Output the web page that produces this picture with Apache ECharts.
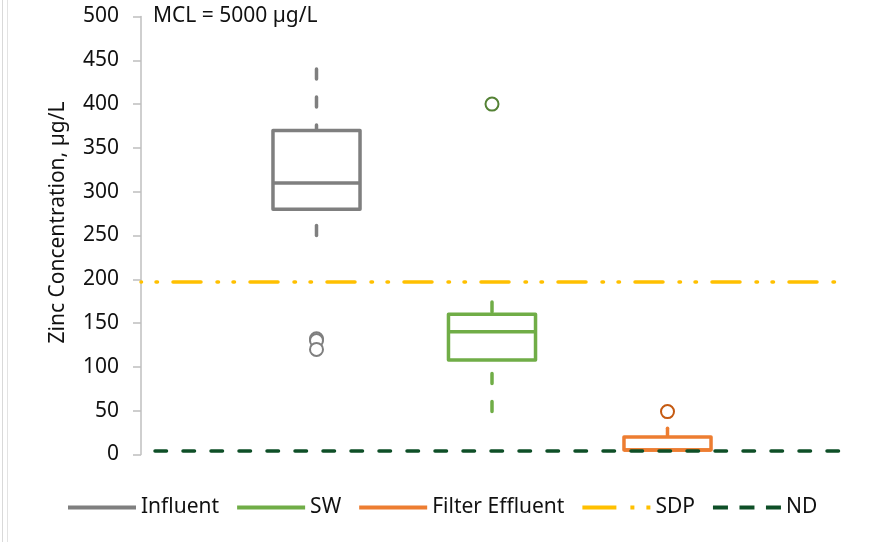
<!DOCTYPE html>
<html><head><meta charset="utf-8">
<script src="https://cdn.jsdelivr.net/npm/echarts@6/dist/echarts.min.js"></script>
<style>html,body{margin:0;padding:0;background:#fff}#c{width:869px;height:542px}</style>
</head><body><div id="c"></div>
<script>
// ---- data ----
const categories = ['', 'Influent', 'SW', 'Filter Effluent', ''];
const yMin = 0, yMax = 500, yStep = 50;
// box stats: [low whisker, Q1, median, Q3, high whisker]
const influentBox = [250, 280, 310, 370, 440];
const swBox = [49, 108, 140, 160, 174];
const effluentBox = [5, 5, 5, 20, 30];
const influentOutliers = [132, 130, 120];
const swOutliers = [400];
const effluentOutliers = [49];
const sdpLevel = 197;
const ndLevel = 4;
const titleText = 'MCL = 5000 µg/L';
const yName = 'Zinc Concentration, µg/L';

// ---- styles ----
const FONT = 'Noto Sans';
const TXT = '#111';
const C_INF = '#7F7F7F', C_SW = '#70AD47', C_EFF = '#ED7D31';
const C_INF_O = '#7F7F7F', C_SW_O = '#548235', C_EFF_O = '#C55A11';
const C_SDP = '#FFC000', C_ND = '#0E4F27';
const LW = 3.5;

function renderBox(params, api) {
  const x = api.value(0);
  const lo = api.coord([x, api.value(1)]);
  const q1 = api.coord([x, api.value(2)]);
  const md = api.coord([x, api.value(3)]);
  const q3 = api.coord([x, api.value(4)]);
  const hi = api.coord([x, api.value(5)]);
  const halfW = api.size([1, 0])[0] * 0.248;
  const color = api.visual('color');
  const cx = q1[0];
  const children = [];
  const dashed = { stroke: color, lineWidth: LW, lineDash: [10, 18], lineCap: 'round', fill: null };
  if (hi[1] < q3[1] - 0.5) {
    children.push({ type: 'line', shape: { x1: cx, y1: hi[1], x2: cx, y2: q3[1] }, style: dashed });
  }
  if (lo[1] > q1[1] + 0.5) {
    children.push({ type: 'line', shape: { x1: cx, y1: lo[1], x2: cx, y2: q1[1] }, style: dashed });
  }
  children.push({ type: 'rect', shape: { x: cx - halfW, y: q3[1], width: 2 * halfW, height: q1[1] - q3[1] },
    style: { stroke: color, lineWidth: LW, fill: '#fff', lineJoin: 'round' } });
  children.push({ type: 'line', shape: { x1: cx - halfW, y1: md[1], x2: cx + halfW, y2: md[1] },
    style: { stroke: color, lineWidth: LW, fill: null } });
  return { type: 'group', children };
}

function boxSeries(name, catName, stats, color) {
  return {
    name, type: 'custom', renderItem: renderBox, z: 3,
    itemStyle: { color },
    encode: { x: 0, y: [1, 2, 3, 4, 5] },
    data: [[categories.indexOf(catName)].concat(stats)]
  };
}
function outlierSeries(name, catName, vals, color) {
  const idx = categories.indexOf(catName);
  return {
    name, type: 'scatter', symbol: 'circle', symbolSize: 13, z: 4,
    itemStyle: { color: '#fff', borderColor: color, borderWidth: 2, opacity: 1 },
    data: vals.map(v => [idx, v])
  };
}
function levelSeries(name, level, color, dash, offset) {
  return {
    name, type: 'line', symbol: 'none', z: 5, silent: true,
    lineStyle: { color, width: LW, type: dash, dashOffset: offset, cap: 'round' },
    itemStyle: { color },
    data: categories.map(() => level)
  };
}

const BAR = 'path://M0,0H68V4H0Z';
const SDP_ICON = 'path://M0,0H34V4H0Z M48,0H52V4H48Z M64,0H68V4H64Z';
const ND_ICON = 'path://M0,0H15V4H0Z M26.5,0H41.5V4H26.5Z M53,0H68V4H53Z';
const chart = echarts.init(document.getElementById('c'), null, { renderer: 'canvas' });
chart.setOption({
  animation: false,
  backgroundColor: '#fff',
  textStyle: { fontFamily: FONT },
  title: { text: titleText, left: 148, top: 1,
    textStyle: { fontFamily: FONT, fontSize: 21, fontWeight: 'normal', color: TXT } },
  grid: { left: 141, right: 26, top: 16.5, bottom: 87.5, containLabel: false },
  xAxis: { type: 'category', data: categories, boundaryGap: false,
    axisLine: { show: false }, axisTick: { show: false }, axisLabel: { show: false }, splitLine: { show: false } },
  yAxis: { type: 'value', min: yMin, max: yMax, interval: yStep,
    name: yName, nameLocation: 'middle', nameGap: 72,
    nameTextStyle: { fontFamily: FONT, fontSize: 21, color: TXT, padding: [0, 0, 0, 26] },
    axisLine: { show: true, lineStyle: { color: '#BFBFBF', width: 1.5 } },
    axisTick: { show: true, length: 8, lineStyle: { color: '#BFBFBF', width: 1.5 } },
    axisLabel: { margin: 22, fontFamily: FONT, fontSize: 21, color: TXT },
    splitLine: { show: false } },
  legend: {
    left: 63, top: 492, itemWidth: 68, itemHeight: 14, itemGap: 18,
    textStyle: { fontFamily: FONT, fontSize: 21, color: TXT },
    data: [
      { name: 'Influent', icon: BAR },
      { name: 'SW', icon: BAR },
      { name: 'Filter Effluent', icon: BAR },
      { name: 'SDP', icon: SDP_ICON },
      { name: 'ND', icon: ND_ICON }
    ]
  },
  graphic: [
    { type: 'line', shape: { x1: 2.5, y1: 0, x2: 2.5, y2: 542 }, style: { stroke: '#D9D9D9', lineWidth: 1 } },
    { type: 'line', shape: { x1: 7.5, y1: 0, x2: 7.5, y2: 542 }, style: { stroke: '#E3E3E3', lineWidth: 1 } }
  ],
  series: [
    boxSeries('Influent', 'Influent', influentBox, C_INF),
    boxSeries('SW', 'SW', swBox, C_SW),
    boxSeries('Filter Effluent', 'Filter Effluent', effluentBox, C_EFF),
    outlierSeries('Influent outliers', 'Influent', influentOutliers, C_INF_O),
    outlierSeries('SW outliers', 'SW', swOutliers, C_SW_O),
    outlierSeries('Filter Effluent outliers', 'Filter Effluent', effluentOutliers, C_EFF_O),
    levelSeries('SDP', sdpLevel, C_SDP, [28, 16, 1.5, 14.5, 1.5, 15.5], 45),
    levelSeries('ND', ndLevel, C_ND, [11.5, 16.5], 14)
  ]
});
</script></body></html>
